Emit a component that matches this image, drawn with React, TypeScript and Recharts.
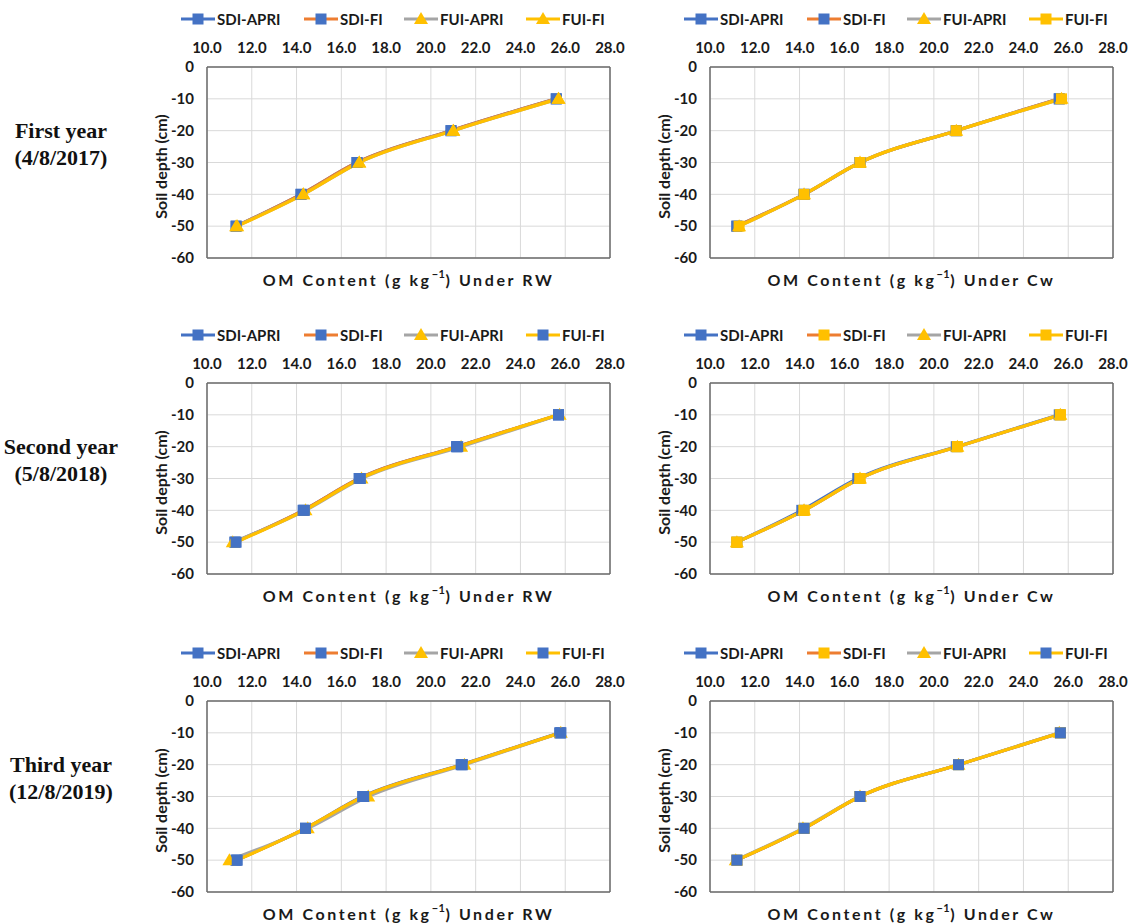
import React from 'react';
import { LineChart, Line, XAxis, YAxis, CartesianGrid, Legend } from 'recharts';

// ---------- shared axis values ----------
const DEPTHS = [-50, -40, -30, -20, -10];
const X_TICKS = [10, 12, 14, 16, 18, 20, 22, 24, 26, 28];
const Y_TICKS = [-60, -50, -40, -30, -20, -10, 0];
const SERIES_NAMES = ['SDI-APRI', 'SDI-FI', 'FUI-APRI', 'FUI-FI'];
const LINE_COLORS = ['#4472C4', '#ED7D31', '#A5A5A5', '#FFC000'];
const ROW_TITLES = ['First year', 'Second year', 'Third year'];
const ROW_DATES = ['(4/8/2017)', '(5/8/2018)', '(12/8/2019)'];
const PANEL_TITLES = ['Under RW', 'Under Cw'];

// ---------- OM content (g kg-1) at depths -50,-40,-30,-20,-10 ----------
// Year 1, RW
const Y1_RW_SDI_APRI = [11.3, 14.2, 16.7, 20.9, 25.6];
const Y1_RW_SDI_FI = [11.3, 14.2, 16.7, 20.9, 25.6];
const Y1_RW_FUI_APRI = [11.3, 14.3, 16.8, 21.0, 25.7];
const Y1_RW_FUI_FI = [11.35, 14.3, 16.8, 21.0, 25.7];
// Year 1, Cw
const Y1_CW_SDI_APRI = [11.2, 14.2, 16.7, 21.0, 25.6];
const Y1_CW_SDI_FI = [11.2, 14.2, 16.7, 21.0, 25.6];
const Y1_CW_FUI_APRI = [11.3, 14.2, 16.7, 21.0, 25.7];
const Y1_CW_FUI_FI = [11.3, 14.2, 16.7, 21.0, 25.7];
// Year 2, RW
const Y2_RW_SDI_APRI = [11.25, 14.3, 16.8, 21.15, 25.7];
const Y2_RW_SDI_FI = [11.25, 14.3, 16.8, 21.15, 25.7];
const Y2_RW_FUI_APRI = [11.15, 14.4, 16.9, 21.35, 25.75];
const Y2_RW_FUI_FI = [11.3, 14.35, 16.85, 21.2, 25.7];
// Year 2, Cw
const Y2_CW_SDI_APRI = [11.2, 14.1, 16.6, 21.0, 25.6];
const Y2_CW_SDI_FI = [11.2, 14.2, 16.7, 21.05, 25.65];
const Y2_CW_FUI_APRI = [11.2, 14.2, 16.7, 21.05, 25.65];
const Y2_CW_FUI_FI = [11.2, 14.2, 16.7, 21.05, 25.65];
// Year 3, RW
const Y3_RW_SDI_APRI = [11.3, 14.4, 16.95, 21.35, 25.75];
const Y3_RW_SDI_FI = [11.3, 14.4, 17.0, 21.4, 25.8];
const Y3_RW_FUI_APRI = [11.0, 14.5, 17.2, 21.5, 25.8];
const Y3_RW_FUI_FI = [11.35, 14.4, 17.0, 21.4, 25.8];
// Year 3, Cw
const Y3_CW_SDI_APRI = [11.2, 14.2, 16.7, 21.1, 25.65];
const Y3_CW_SDI_FI = [11.2, 14.2, 16.7, 21.1, 25.65];
const Y3_CW_FUI_APRI = [11.15, 14.15, 16.7, 21.1, 25.6];
const Y3_CW_FUI_FI = [11.2, 14.2, 16.7, 21.1, 25.65];

// marker [shape, colour] per series per panel
type Mk = [string, string];
const BLUE_SQ: Mk = ['square', '#4472C4'];
const YEL_SQ: Mk = ['square', '#FFC000'];
const YEL_TRI: Mk = ['triangle', '#FFC000'];

const PANELS = [
  { row: 0, col: 0, values: [Y1_RW_SDI_APRI, Y1_RW_SDI_FI, Y1_RW_FUI_APRI, Y1_RW_FUI_FI], markers: [BLUE_SQ, BLUE_SQ, YEL_TRI, YEL_TRI] },
  { row: 0, col: 1, values: [Y1_CW_SDI_APRI, Y1_CW_SDI_FI, Y1_CW_FUI_APRI, Y1_CW_FUI_FI], markers: [BLUE_SQ, BLUE_SQ, YEL_TRI, YEL_SQ] },
  { row: 1, col: 0, values: [Y2_RW_SDI_APRI, Y2_RW_SDI_FI, Y2_RW_FUI_APRI, Y2_RW_FUI_FI], markers: [BLUE_SQ, BLUE_SQ, YEL_TRI, BLUE_SQ] },
  { row: 1, col: 1, values: [Y2_CW_SDI_APRI, Y2_CW_SDI_FI, Y2_CW_FUI_APRI, Y2_CW_FUI_FI], markers: [BLUE_SQ, YEL_SQ, YEL_TRI, YEL_SQ] },
  { row: 2, col: 0, values: [Y3_RW_SDI_APRI, Y3_RW_SDI_FI, Y3_RW_FUI_APRI, Y3_RW_FUI_FI], markers: [BLUE_SQ, BLUE_SQ, YEL_TRI, BLUE_SQ] },
  { row: 2, col: 1, values: [Y3_CW_SDI_APRI, Y3_CW_SDI_FI, Y3_CW_FUI_APRI, Y3_CW_FUI_FI], markers: [BLUE_SQ, YEL_SQ, YEL_TRI, BLUE_SQ] },
];

// ---------- layout ----------
const ROW_TOPS = [0, 316, 634];
const COL_LEFTS = [145, 648];
const CHART_W = 486;
const CHART_H = 300;
const FONT = 'Lato, "Open Sans", sans-serif';
const TEXT = '#1a1a1a';
const BORDER = '#6b6b6b';
const LEGEND_ITEM_W = [123, 100, 122, 80];

function markerShape(shape: string, fill: string, cx: number, cy: number, key?: any) {
  if (shape === 'square') {
    return <rect key={key} x={cx - 5.5} y={cy - 5.5} width={11} height={11} fill={fill} />;
  }
  return <polygon key={key} points={`${cx},${cy - 7} ${cx + 7},${cy + 5} ${cx - 7},${cy + 5}`} fill={fill} />;
}

const makeDot = (shape: string, fill: string) => (props: any) => {
  const { cx, cy, index } = props;
  if (cx == null || cy == null) return <g key={`d${index}`} />;
  return markerShape(shape, fill, cx, cy, `d${index}`);
};

const LegendBox = ({ markers }: { markers: Mk[] }) => (
  <div
    style={{
      display: 'flex',
      alignItems: 'center',
      height: 26,
      paddingLeft: 36,
      fontFamily: FONT,
      fontWeight: 700,
      fontSize: 15,
      color: TEXT,
      whiteSpace: 'nowrap',
    }}
  >
    {SERIES_NAMES.map((n, i) => (
      <div key={n} style={{ width: LEGEND_ITEM_W[i], display: 'flex', alignItems: 'center' }}>
        <svg width={34} height={16} style={{ display: 'block' }}>
          <line x1={0} y1={8} x2={34} y2={8} stroke={LINE_COLORS[i]} strokeWidth={3} />
          {markerShape(markers[i][0], markers[i][1], 17, 8)}
        </svg>
        <span style={{ marginLeft: 2 }}>{n}</span>
      </div>
    ))}
  </div>
);

const Panel = ({ values, markers, col }: { values: number[][]; markers: Mk[]; col: number }) => {
  const series = values.map((vals) => DEPTHS.map((d, i) => ({ x: vals[i], y: d })));
  const title = PANEL_TITLES[col];
  return (
    <LineChart width={CHART_W} height={CHART_H} margin={{ top: 6, right: 20, bottom: 0, left: 0 }}>
      <Legend verticalAlign="top" align="left" content={() => <LegendBox markers={markers} />} />
      <CartesianGrid stroke="#d9d9d9" strokeWidth={1} />
      <XAxis
        orientation="top"
        type="number"
        dataKey="x"
        domain={[10, 28]}
        ticks={X_TICKS}
        allowDataOverflow
        tickFormatter={(v: number) => v.toFixed(1)}
        height={35}
        tickSize={0}
        tickMargin={14}
        tickLine={false}
        axisLine={{ stroke: BORDER, strokeWidth: 1.5 }}
        tick={{ fill: TEXT, fontSize: 15, fontWeight: 700, fontFamily: FONT }}
      />
      <XAxis
        xAxisId="b"
        orientation="bottom"
        type="number"
        domain={[10, 28]}
        ticks={X_TICKS}
        allowDataOverflow
        height={42}
        tick={false}
        tickLine={false}
        axisLine={{ stroke: BORDER, strokeWidth: 1.5 }}
        label={{
          content: (p: any) => {
            const vb = p.viewBox || { x: 62, y: 258, width: 403 };
            return (
              <text
                x={vb.x + vb.width / 2}
                y={vb.y + 21}
                textAnchor="middle"
                dominantBaseline="central"
                fontFamily={FONT}
                fontWeight={700}
                fontSize={16}
                letterSpacing={2.6}
                fill={TEXT}
              >
                <tspan>OM Content (g kg</tspan>
                <tspan dy={-6} fontSize={11} letterSpacing={0.5}>−1</tspan>
                <tspan dy={6}>) {title}</tspan>
              </text>
            );
          },
        }}
      />
      <YAxis
        type="number"
        domain={[-60, 0]}
        ticks={Y_TICKS}
        allowDataOverflow
        width={62}
        tickSize={0}
        tickMargin={13}
        tickLine={false}
        axisLine={{ stroke: BORDER, strokeWidth: 1.5 }}
        tick={{ fill: TEXT, fontSize: 15, fontWeight: 700, fontFamily: FONT }}
        label={{
          content: (p: any) => {
            const vb = p.viewBox || { x: 0, y: 67, height: 191 };
            const x = vb.x + 15;
            const y = vb.y + vb.height / 2 + 4;
            return (
              <text
                x={x}
                y={y}
                transform={`rotate(-90, ${x}, ${y})`}
                textAnchor="middle"
                dominantBaseline="central"
                fontFamily={FONT}
                fontWeight={700}
                fontSize={16}
                fill={TEXT}
              >
                Soil depth (cm)
              </text>
            );
          },
        }}
      />
      <YAxis
        yAxisId="r"
        orientation="right"
        type="number"
        domain={[-60, 0]}
        ticks={Y_TICKS}
        allowDataOverflow
        width={1}
        tick={false}
        tickLine={false}
        axisLine={{ stroke: BORDER, strokeWidth: 1.5 }}
      />
      {series.map((data, i) => (
        <Line
          key={SERIES_NAMES[i]}
          data={data}
          dataKey="y"
          name={SERIES_NAMES[i]}
          type="monotone"
          stroke={LINE_COLORS[i]}
          strokeWidth={3.2}
          dot={makeDot(markers[i][0], markers[i][1])}
          activeDot={false}
          isAnimationActive={false}
        />
      ))}
    </LineChart>
  );
};

export default function App() {
  return (
    <div style={{ position: 'relative', width: 1134, height: 923, background: '#fff', overflow: 'hidden' }}>
      <style>{`body{margin:0;}`}</style>
      {ROW_TITLES.map((t, r) => (
        <div
          key={t}
          style={{
            position: 'absolute',
            left: 0,
            width: 122,
            top: ROW_TOPS[r] + 117,
            textAlign: 'center',
            fontFamily: '"Liberation Serif", "Times New Roman", serif',
            fontWeight: 700,
            fontSize: 22,
            lineHeight: '27px',
            color: '#111',
          }}
        >
          <div>{t}</div>
          <div>{ROW_DATES[r]}</div>
        </div>
      ))}
      {PANELS.map((p, i) => (
        <div key={i} style={{ position: 'absolute', left: COL_LEFTS[p.col], top: ROW_TOPS[p.row] }}>
          <Panel values={p.values} markers={p.markers} col={p.col} />
        </div>
      ))}
    </div>
  );
}
